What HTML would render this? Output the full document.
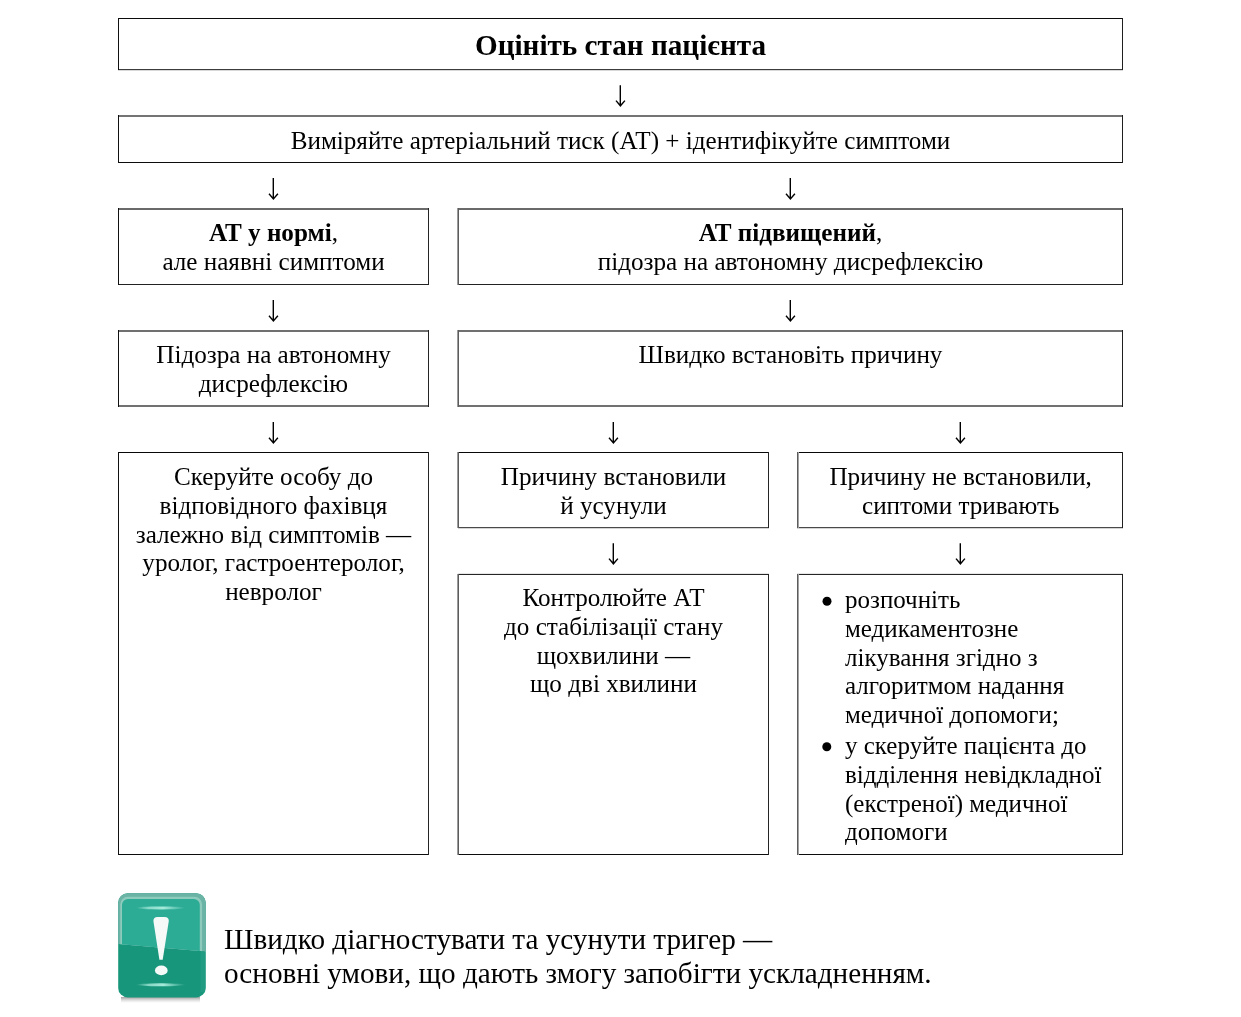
<!DOCTYPE html>
<html><head><meta charset="utf-8">
<style>
html,body{margin:0;padding:0;background:#fff;}
body{width:1241px;height:1017px;position:relative;overflow:hidden;font-family:"Liberation Serif",serif;color:#000;}
.t{filter:grayscale(1);position:absolute;text-align:center;white-space:nowrap;font-size:25.15px;line-height:28.75px;}
svg{position:absolute;left:0;top:0;}
</style></head><body>
<svg width="1241" height="1017">
<g shape-rendering="crispEdges"><rect x="118" y="18" width="1005" height="1" fill="#0b0b0b"/><rect x="118" y="69" width="1005" height="1" fill="#3c3c3c"/><rect x="118" y="70" width="1005" height="1" fill="#d8d8d8"/><rect x="118" y="115" width="1005" height="1" fill="#747474"/><rect x="118" y="116" width="1005" height="1" fill="#747474"/><rect x="118" y="162" width="1005" height="1" fill="#0c0c0c"/><rect x="118" y="208" width="311" height="1" fill="#6a6a6a"/><rect x="458" y="208" width="665" height="1" fill="#6a6a6a"/><rect x="118" y="209" width="311" height="1" fill="#6a6a6a"/><rect x="458" y="209" width="665" height="1" fill="#6a6a6a"/><rect x="118" y="284" width="311" height="1" fill="#222222"/><rect x="458" y="284" width="665" height="1" fill="#222222"/><rect x="118" y="330" width="311" height="1" fill="#707070"/><rect x="458" y="330" width="665" height="1" fill="#707070"/><rect x="118" y="331" width="311" height="1" fill="#707070"/><rect x="458" y="331" width="665" height="1" fill="#707070"/><rect x="118" y="405" width="311" height="1" fill="#717171"/><rect x="458" y="405" width="665" height="1" fill="#717171"/><rect x="118" y="406" width="311" height="1" fill="#717171"/><rect x="458" y="406" width="665" height="1" fill="#717171"/><rect x="118" y="452" width="311" height="1" fill="#080808"/><rect x="458" y="452" width="311" height="1" fill="#080808"/><rect x="797" y="452" width="326" height="1" fill="#080808"/><rect x="458" y="527" width="311" height="1" fill="#4a4a4a"/><rect x="797" y="527" width="326" height="1" fill="#4a4a4a"/><rect x="458" y="528" width="311" height="1" fill="#d4d4d4"/><rect x="797" y="528" width="326" height="1" fill="#d4d4d4"/><rect x="458" y="573" width="311" height="1" fill="#e6e6e6"/><rect x="797" y="573" width="326" height="1" fill="#e6e6e6"/><rect x="458" y="574" width="311" height="1" fill="#262626"/><rect x="797" y="574" width="326" height="1" fill="#262626"/><rect x="118" y="854" width="311" height="1" fill="#0c0c0c"/><rect x="458" y="854" width="311" height="1" fill="#0c0c0c"/><rect x="797" y="854" width="326" height="1" fill="#0c0c0c"/><rect x="118" y="18" width="1" height="52" fill="#111111"/><rect x="118" y="115" width="1" height="48" fill="#111111"/><rect x="118" y="208" width="1" height="77" fill="#111111"/><rect x="118" y="330" width="1" height="77" fill="#111111"/><rect x="118" y="452" width="1" height="403" fill="#111111"/><rect x="1122" y="18" width="1" height="52" fill="#1f1f1f"/><rect x="1122" y="115" width="1" height="48" fill="#1f1f1f"/><rect x="1122" y="208" width="1" height="77" fill="#1f1f1f"/><rect x="1122" y="330" width="1" height="77" fill="#1f1f1f"/><rect x="1122" y="452" width="1" height="76" fill="#1f1f1f"/><rect x="1122" y="574" width="1" height="281" fill="#1f1f1f"/><rect x="428" y="208" width="1" height="77" fill="#242424"/><rect x="428" y="330" width="1" height="77" fill="#242424"/><rect x="428" y="452" width="1" height="403" fill="#242424"/><rect x="457" y="208" width="1" height="77" fill="#9c9c9c"/><rect x="457" y="330" width="1" height="77" fill="#9c9c9c"/><rect x="457" y="452" width="1" height="76" fill="#9c9c9c"/><rect x="457" y="574" width="1" height="281" fill="#9c9c9c"/><rect x="458" y="208" width="1" height="77" fill="#5c5c5c"/><rect x="458" y="330" width="1" height="77" fill="#5c5c5c"/><rect x="458" y="452" width="1" height="76" fill="#5c5c5c"/><rect x="458" y="574" width="1" height="281" fill="#5c5c5c"/><rect x="768" y="452" width="1" height="76" fill="#242424"/><rect x="768" y="574" width="1" height="281" fill="#242424"/><rect x="797" y="452" width="1" height="76" fill="#5c5c5c"/><rect x="797" y="574" width="1" height="281" fill="#5c5c5c"/><rect x="798" y="452" width="1" height="76" fill="#a2a2a2"/><rect x="798" y="574" width="1" height="281" fill="#a2a2a2"/></g>
<g fill="none" stroke="#000" stroke-width="1.4"><path d="M620.3 85.2V105.3M616.0 100.6L620.4 105.8L624.9 100.6"/><path d="M273.3 178V198.4M269.0 193.7L273.4 198.9L277.9 193.7"/><path d="M790.3 178V198.4M786.0 193.7L790.4 198.9L794.9 193.7"/><path d="M273.3 300V320.4M269.0 315.7L273.4 320.9L277.9 315.7"/><path d="M790.3 300V320.4M786.0 315.7L790.4 320.9L794.9 315.7"/><path d="M273.3 422V442.4M269.0 437.7L273.4 442.9L277.9 437.7"/><path d="M613.3 422V442.4M609.0 437.7L613.4 442.9L617.9 437.7"/><path d="M960.3 422V442.4M956.0 437.7L960.4 442.9L964.9 437.7"/><path d="M613.3 543.2V563.3M609.0 558.6L613.4 563.8L617.9 558.6"/><path d="M960.3 543.2V563.3M956.0 558.6L960.4 563.8L964.9 558.6"/></g>
<circle cx="827" cy="601.2" r="4.5"/><circle cx="826.8" cy="746.8" r="4.5"/>
<defs>
<clipPath id="cr"><rect x="118.2" y="893.2" width="87.5" height="104.2" rx="9.5"/></clipPath>
<clipPath id="up"><polygon points="110,885 215,885 215,952.2 110,943.2"/></clipPath>
<linearGradient id="sh" x1="0" y1="0" x2="0" y2="1"><stop offset="0" stop-color="#a0a0a0" stop-opacity="1"/><stop offset="1" stop-color="#d0d0d0" stop-opacity="0"/></linearGradient>
<linearGradient id="hl" x1="0" y1="0" x2="1" y2="0"><stop offset="0" stop-color="#9fe6d6" stop-opacity="0"/><stop offset=".25" stop-color="#9fe6d6" stop-opacity=".8"/><stop offset=".55" stop-color="#a6eadb" stop-opacity="1"/><stop offset="1" stop-color="#9fe6d6" stop-opacity="0"/></linearGradient>
</defs>
<rect x="121" y="997" width="79" height="6" fill="url(#sh)"/>
<g clip-path="url(#cr)">
<rect x="118" y="893" width="88" height="105" fill="#18967b"/>
<g clip-path="url(#up)">
<rect x="118" y="893" width="88" height="105" fill="#6ab3a5"/>
<rect x="120.3" y="896.8" width="81.8" height="100" rx="7.5" fill="#8ecbbd"/>
<rect x="122" y="899" width="77.8" height="98" rx="6" fill="#2cab95"/>
</g>
<rect x="200.5" y="952" width="5.5" height="40" fill="#2a9f88" opacity=".5"/>
</g>
<ellipse cx="160.8" cy="907.9" rx="24.6" ry="1.5" fill="url(#hl)"/>
<ellipse cx="160.8" cy="984.8" rx="24.6" ry="1.5" fill="url(#hl)"/>
<path d="M153.4 921Q153.4 917.1 157.5 917.1L164.7 917.1Q168.8 917.1 168.8 921L162.7 959.7L159.4 959.7Z" fill="#f5f9f8"/>
<ellipse cx="161.3" cy="970.4" rx="6.35" ry="4.9" fill="#f5f9f8"/>
</svg>
<div class="t" style="left:118px;width:1005px;top:29px;font-size:29.2px;font-weight:bold;line-height:33px">Оцініть стан пацієнта</div>
<div class="t" style="left:118px;width:1005px;top:127px;">Виміряйте артеріальний тиск (АТ) + ідентифікуйте симптоми</div>
<div class="t" style="left:118px;width:311px;top:219px;"><b>АТ у нормі</b>,<br>але наявні симптоми</div>
<div class="t" style="left:458px;width:665px;top:219px;"><b>АТ підвищений</b>,<br>підозра на автономну дисрефлексію</div>
<div class="t" style="left:118px;width:311px;top:341px;">Підозра на автономну<br>дисрефлексію</div>
<div class="t" style="left:458px;width:665px;top:341px;">Швидко встановіть причину</div>
<div class="t" style="left:118px;width:311px;top:463px;">Скеруйте особу до<br>відповідного фахівця<br>залежно від симптомів —<br>уролог, гастроентеролог,<br>невролог</div>
<div class="t" style="left:458px;width:311px;top:463px;">Причину встановили<br>й усунули</div>
<div class="t" style="left:797.7px;width:326px;top:463px;">Причину не встановили,<br>сиптоми тривають</div>
<div class="t" style="left:458px;width:311px;top:584px;">Контролюйте АТ<br>до стабілізації стану<br>щохвилини —<br>що дві хвилини</div>
<div class="t" style="left:845px;top:586px;text-align:left;font-size:25px">розпочніть<br>медикаментозне<br>лікування згідно з<br>алгоритмом надання<br>медичної допомоги;</div>
<div class="t" style="left:845px;top:732px;text-align:left;font-size:25px">у скеруйте пацієнта до<br>відділення невідкладної<br>(екстреної) медичної<br>допомоги</div>
<div class="t" style="left:224px;top:922px;text-align:left;font-size:29.2px;line-height:34px">Швидко діагностувати та усунути тригер —<br>основні умови, що дають змогу запобігти ускладненням.</div>
</body></html>
